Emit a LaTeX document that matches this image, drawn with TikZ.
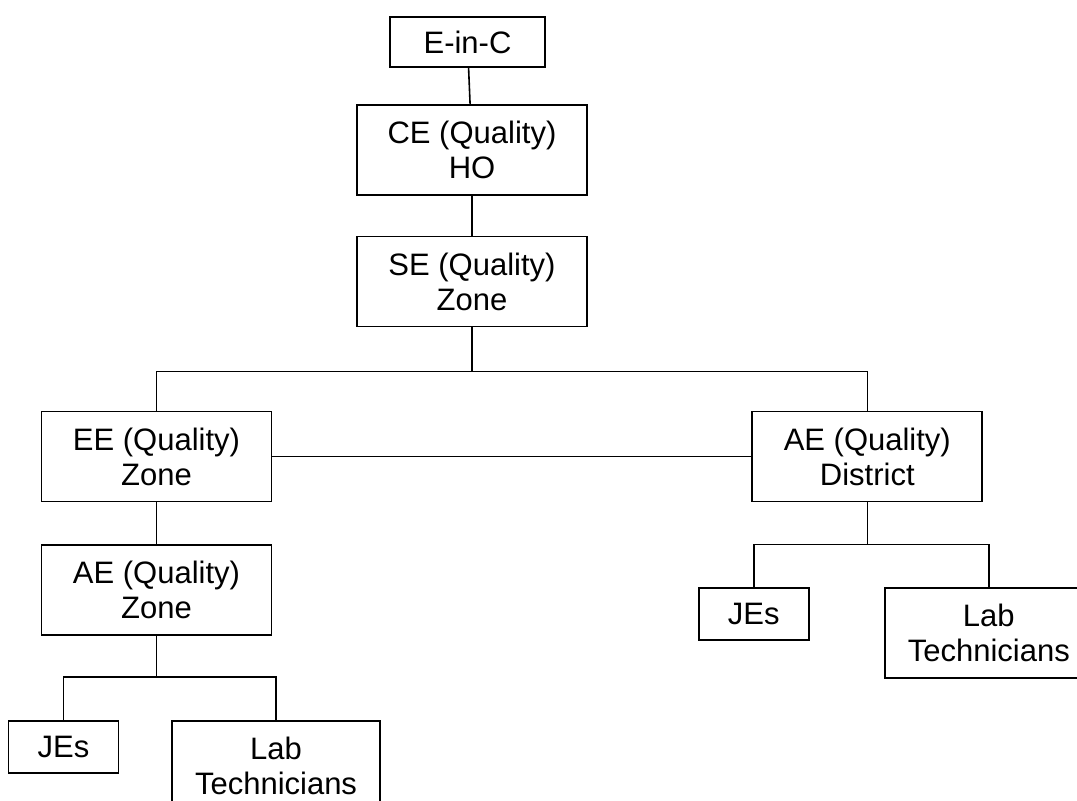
\documentclass[tikz,border=0pt]{standalone}
\usepackage{fontspec}
\setmainfont{Liberation Sans}
\usetikzlibrary{positioning}
\tikzstyle{post} = [rectangle, minimum width=115pt, minimum height=45pt, text centered, align=center, inner sep=2pt, line width=0.9pt, draw=black, font=\fontsize{15.5}{17.5}\selectfont]
\tikzstyle{chief} = [post, minimum width=77.5pt, minimum height=25pt]
\tikzstyle{junior} = [post, minimum width=55pt, minimum height=26pt]
\tikzstyle{lab} = [post, minimum width=104pt, minimum height=45pt]
\tikzstyle{link} = [line width=0.8pt]

\begin{document}
\begin{tikzpicture}
    \clip (0pt,0pt) rectangle (538.5pt,-400.5pt);
    \node (einc) [chief] at (233.75pt,-21pt) {E-in-C};
    \node (ce) [post, below=18pt of einc, xshift=2.25pt] {CE (Quality)\\HO};
    \node (se) [post, below=20pt of ce] {SE (Quality)\\Zone};
    \node (ee) [post] at (78.25pt,-228.25pt) {EE (Quality)\\Zone};
    \node (aedist) [post, right=239.5pt of ee] {AE (Quality)\\District};
    \node (aezone) [post, below=21pt of ee] {AE (Quality)\\Zone};
    \node (jesz) [junior, below=42pt of aezone, xshift=-46.5pt] {JEs};
    \node (labz) [lab, below=42pt of aezone, xshift=59.75pt] {Lab\\Technicians};
    \node (jesd) [junior, below=42.5pt of aedist, xshift=-56.75pt] {JEs};
    \node (labd) [lab, below=42.5pt of aedist, xshift=60.75pt] {Lab\\Technicians};

    \draw [link] (einc) -- (ce);
    \draw [link] (ce) -- (se);
    \draw [link] (se.south) -- ++(0,-22pt) -| (ee.north);
    \draw [link] (se.south) -- ++(0,-22pt) -| (aedist.north);
    \draw [link] (ee) -- (aedist);
    \draw [link] (ee) -- (aezone);
    \draw [link] (aezone.south) -- ++(0,-20.5pt) -| (jesz.north);
    \draw [link] (aezone.south) -- ++(0,-20.5pt) -| (labz.north);
    \draw [link] (aedist.south) -- ++(0,-21pt) -| (jesd.north);
    \draw [link] (aedist.south) -- ++(0,-21pt) -| (labd.north);
\end{tikzpicture}
\end{document}
